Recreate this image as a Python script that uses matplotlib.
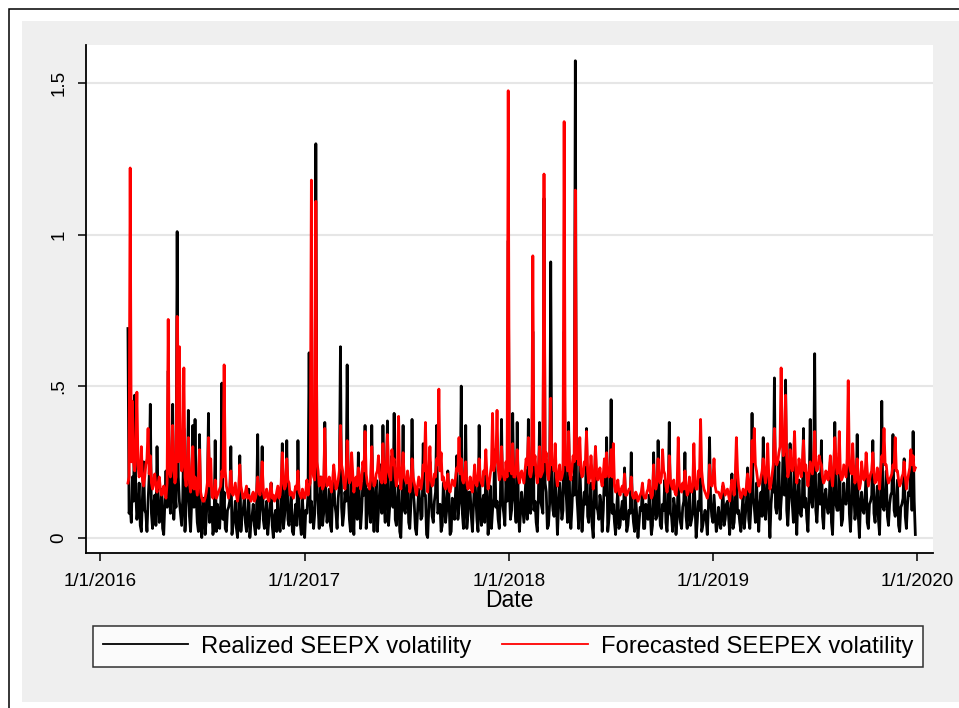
import numpy as np
import pandas as pd
import matplotlib
matplotlib.use("Agg")
import matplotlib.pyplot as plt
from matplotlib.patches import Rectangle
from matplotlib.lines import Line2D

plt.rcParams['font.family'] = ['Liberation Sans', 'DejaVu Sans']

# ---------------- data ----------------
# main readings every 4 days, plus readings at the day-2 points in between
start_date = "2016-02-20"
step = "2D"

realized_a = [0.69, 0.10, 0.20, 0.47, 0.06, 0.18, 0.02, 0.25, 0.08, 0.12,
              0.44, 0.03, 0.14, 0.30, 0.05, 0.16, 0.01, 0.22, 0.55, 0.08,
              0.44, 0.15, 1.01, 0.12, 0.04, 0.36, 0.10, 0.42, 0.02, 0.37,
              0.39, 0.05, 0.34, 0.00, 0.13, 0.06, 0.41, 0.09, 0.01, 0.32,
              0.11, 0.03, 0.51, 0.15, 0.02, 0.10, 0.30, 0.04, 0.12, 0.00,
              0.27, 0.07, 0.13, 0.02, 0.16, 0.05, 0.11, 0.01, 0.34, 0.08,
              0.30, 0.03, 0.12, 0.06, 0.18, 0.00, 0.09, 0.14, 0.02, 0.31,
              0.07, 0.32, 0.04, 0.15, 0.01, 0.11, 0.32, 0.05, 0.13, 0.00,
              0.08, 0.61, 0.12, 0.03, 1.30, 0.10, 0.20, 0.04]
realized_mid_a = [0.08, 0.05, 0.12, 0.15, 0.10, 0.04, 0.13, 0.09, 0.02, 0.20,
                  0.08, 0.11, 0.04, 0.12, 0.09, 0.03, 0.12, 0.10, 0.14, 0.18,
                  0.06, 0.10, 0.20, 0.08, 0.13, 0.02, 0.15, 0.07, 0.12, 0.10,
                  0.13, 0.02, 0.06, 0.09, 0.01, 0.14, 0.05, 0.10, 0.04, 0.02,
                  0.08, 0.12, 0.06, 0.03, 0.09, 0.12, 0.01, 0.07, 0.03, 0.10,
                  0.02, 0.09, 0.05, 0.08, 0.00, 0.07, 0.04, 0.10, 0.03, 0.11,
                  0.06, 0.08, 0.01, 0.10, 0.04, 0.07, 0.02, 0.05, 0.09, 0.03,
                  0.12, 0.06, 0.09, 0.02, 0.07, 0.04, 0.10, 0.01, 0.06, 0.09,
                  0.14, 0.05, 0.08, 0.08, 0.15, 0.03, 0.12, 0.08]
realized_b = [0.38, 0.05, 0.16, 0.02, 0.20, 0.08, 0.13, 0.63, 0.04, 0.15,
              0.57, 0.06, 0.22, 0.01, 0.14, 0.28, 0.03, 0.18, 0.37, 0.07,
              0.12, 0.37, 0.02, 0.19, 0.09, 0.24, 0.37, 0.05, 0.385, 0.10,
              0.27, 0.41, 0.04, 0.17, 0.00, 0.37, 0.08, 0.21, 0.03, 0.39,
              0.11, 0.01, 0.16, 0.06, 0.31, 0.14, 0.00, 0.25, 0.07, 0.12,
              0.37, 0.09, 0.02, 0.18, 0.05, 0.22, 0.01, 0.13, 0.06, 0.27,
              0.10, 0.50, 0.03, 0.37, 0.08, 0.15, 0.02, 0.20, 0.06, 0.37,
              0.04, 0.14, 0.23, 0.01, 0.17, 0.09, 0.29, 0.12, 0.03, 0.39,
              0.08, 0.20, 0.98, 0.06, 0.41, 0.11, 0.38, 0.02]
realized_mid_b = [0.12, 0.09, 0.04, 0.15, 0.11, 0.03, 0.17, 0.10, 0.08, 0.12,
                  0.14, 0.02, 0.10, 0.18, 0.06, 0.12, 0.09, 0.14, 0.03, 0.16,
                  0.05, 0.11, 0.13, 0.02, 0.15, 0.08, 0.12, 0.17, 0.04, 0.14,
                  0.10, 0.06, 0.12, 0.02, 0.13, 0.09, 0.15, 0.05, 0.11, 0.16,
                  0.03, 0.09, 0.12, 0.07, 0.14, 0.01, 0.10, 0.13, 0.05, 0.15,
                  0.08, 0.11, 0.04, 0.12, 0.09, 0.14, 0.02, 0.10, 0.16, 0.06,
                  0.13, 0.08, 0.12, 0.03, 0.15, 0.07, 0.11, 0.14, 0.02, 0.09,
                  0.12, 0.05, 0.15, 0.08, 0.03, 0.13, 0.10, 0.06, 0.14, 0.11,
                  0.04, 0.12, 0.16, 0.09, 0.14, 0.05, 0.12, 0.08]
realized_c = [0.15, 0.05, 0.22, 0.39, 0.08, 0.68, 0.12, 0.02, 0.38, 0.10,
              1.12, 0.15, 0.04, 0.91, 0.09, 0.25, 0.01, 0.18, 0.06, 0.68,
              0.13, 0.38, 0.03, 0.20, 1.574, 0.10, 0.24, 0.02, 0.15, 0.36,
              0.05, 0.18, 0.00, 0.30, 0.09, 0.14, 0.02, 0.21, 0.33, 0.06,
              0.455, 0.11, 0.01, 0.16, 0.04, 0.12, 0.23, 0.02, 0.09, 0.28,
              0.05, 0.13, 0.00, 0.10, 0.17, 0.03, 0.08, 0.14, 0.01, 0.28,
              0.06, 0.32, 0.04, 0.11, 0.19, 0.02, 0.38, 0.07, 0.13, 0.01,
              0.20, 0.05, 0.10, 0.28, 0.03, 0.15, 0.06, 0.22, 0.00, 0.12,
              0.25, 0.04, 0.09, 0.01, 0.33, 0.07, 0.14, 0.02]
realized_mid_c = [0.10, 0.13, 0.06, 0.12, 0.15, 0.09, 0.05, 0.14, 0.12, 0.08,
                  0.18, 0.03, 0.11, 0.14, 0.07, 0.12, 0.10, 0.13, 0.09, 0.17,
                  0.05, 0.12, 0.10, 0.14, 0.16, 0.03, 0.13, 0.09, 0.11, 0.07,
                  0.12, 0.04, 0.13, 0.10, 0.06, 0.11, 0.09, 0.14, 0.02, 0.12,
                  0.08, 0.05, 0.10, 0.03, 0.09, 0.06, 0.11, 0.04, 0.08, 0.10,
                  0.02, 0.07, 0.05, 0.09, 0.03, 0.11, 0.06, 0.08, 0.04, 0.10,
                  0.07, 0.12, 0.03, 0.09, 0.05, 0.11, 0.08, 0.02, 0.10, 0.06,
                  0.09, 0.03, 0.12, 0.07, 0.10, 0.04, 0.08, 0.11, 0.05, 0.09,
                  0.02, 0.07, 0.06, 0.10, 0.12, 0.05, 0.08, 0.04]
realized_d = [0.10, 0.03, 0.17, 0.06, 0.12, 0.01, 0.21, 0.05, 0.26, 0.09,
              0.02, 0.14, 0.07, 0.23, 0.03, 0.41, 0.10, 0.18, 0.02, 0.15,
              0.33, 0.06, 0.22, 0.00, 0.16, 0.527, 0.08, 0.25, 0.12, 0.34,
              0.52, 0.04, 0.31, 0.11, 0.27, 0.01, 0.19, 0.07, 0.36, 0.13,
              0.02, 0.39, 0.10, 0.607, 0.05, 0.21, 0.32, 0.03, 0.16, 0.08,
              0.25, 0.01, 0.38, 0.09, 0.28, 0.04, 0.18, 0.11, 0.30, 0.02,
              0.24, 0.06, 0.34, 0.00, 0.15, 0.08, 0.21, 0.03, 0.12, 0.32,
              0.05, 0.17, 0.01, 0.45, 0.09, 0.22, 0.04, 0.14, 0.34, 0.07,
              0.19, 0.02, 0.11, 0.26, 0.03, 0.15, 0.24, 0.35, 0.01]
realized_mid_d = [0.06, 0.09, 0.04, 0.11, 0.07, 0.10, 0.03, 0.12, 0.08, 0.05,
                  0.09, 0.03, 0.12, 0.06, 0.10, 0.13, 0.05, 0.09, 0.11, 0.07,
                  0.12, 0.14, 0.08, 0.11, 0.15, 0.10, 0.13, 0.06, 0.17, 0.14,
                  0.09, 0.12, 0.16, 0.05, 0.11, 0.14, 0.08, 0.13, 0.10, 0.06,
                  0.15, 0.12, 0.18, 0.09, 0.13, 0.11, 0.07, 0.14, 0.10, 0.12,
                  0.05, 0.15, 0.11, 0.09, 0.13, 0.06, 0.12, 0.14, 0.08, 0.11,
                  0.15, 0.10, 0.07, 0.12, 0.09, 0.13, 0.05, 0.11, 0.14, 0.08,
                  0.12, 0.06, 0.16, 0.10, 0.13, 0.07, 0.11, 0.15, 0.09, 0.12,
                  0.04, 0.10, 0.13, 0.07, 0.11, 0.14, 0.09, 0.12]

forecast_a = [0.18, 1.22, 0.45, 0.22, 0.48, 0.20, 0.30, 0.17, 0.24, 0.36,
              0.27, 0.16, 0.21, 0.15, 0.20, 0.14, 0.17, 0.13, 0.72, 0.20,
              0.37, 0.18, 0.73, 0.63, 0.22, 0.56, 0.17, 0.33, 0.15, 0.30,
              0.20, 0.14, 0.29, 0.13, 0.12, 0.15, 0.33, 0.26, 0.13, 0.19,
              0.14, 0.16, 0.22, 0.57, 0.17, 0.13, 0.22, 0.14, 0.18, 0.12,
              0.24, 0.15, 0.13, 0.17, 0.14, 0.12, 0.15, 0.13, 0.20, 0.14,
              0.25, 0.13, 0.16, 0.12, 0.18, 0.14, 0.13, 0.17, 0.14, 0.28,
              0.16, 0.26, 0.18, 0.15, 0.13, 0.17, 0.22, 0.14, 0.16, 0.13,
              0.19, 0.17, 1.18, 0.20, 1.11, 0.22, 0.18, 0.16]
forecast_mid_a = [0.20, 0.25, 0.25, 0.30, 0.24, 0.22, 0.19, 0.20, 0.26, 0.21,
                  0.18, 0.19, 0.17, 0.18, 0.16, 0.15, 0.14, 0.18, 0.22, 0.24,
                  0.22, 0.20, 0.25, 0.30, 0.25, 0.20, 0.22, 0.18, 0.21, 0.16,
                  0.17, 0.19, 0.15, 0.12, 0.13, 0.18, 0.17, 0.14, 0.15, 0.13,
                  0.15, 0.17, 0.20, 0.22, 0.15, 0.16, 0.15, 0.16, 0.14, 0.15,
                  0.17, 0.13, 0.15, 0.13, 0.13, 0.14, 0.12, 0.15, 0.16, 0.17,
                  0.15, 0.14, 0.13, 0.15, 0.13, 0.12, 0.15, 0.13, 0.18, 0.19,
                  0.17, 0.19, 0.14, 0.14, 0.15, 0.16, 0.15, 0.13, 0.14, 0.15,
                  0.14, 0.18, 0.22, 0.19, 0.25, 0.17, 0.20, 0.17]
forecast_b = [0.36, 0.17, 0.20, 0.15, 0.24, 0.16, 0.19, 0.37, 0.22, 0.16,
              0.32, 0.18, 0.28, 0.15, 0.20, 0.23, 0.16, 0.25, 0.35, 0.18,
              0.16, 0.30, 0.17, 0.21, 0.27, 0.19, 0.31, 0.18, 0.34, 0.20,
              0.29, 0.26, 0.17, 0.40, 0.16, 0.28, 0.19, 0.22, 0.15, 0.26,
              0.18, 0.14, 0.20, 0.16, 0.24, 0.38, 0.15, 0.30, 0.17, 0.21,
              0.26, 0.49, 0.28, 0.20, 0.16, 0.21, 0.15, 0.19, 0.17, 0.23,
              0.33, 0.26, 0.18, 0.25, 0.16, 0.20, 0.15, 0.24, 0.17, 0.26,
              0.18, 0.22, 0.29, 0.16, 0.21, 0.41, 0.24, 0.42, 0.19, 0.30,
              0.20, 0.25, 1.475, 0.24, 0.31, 0.20, 0.29, 0.18]
forecast_mid_b = [0.20, 0.18, 0.17, 0.19, 0.20, 0.17, 0.22, 0.24, 0.18, 0.20,
                  0.22, 0.19, 0.21, 0.18, 0.17, 0.20, 0.19, 0.22, 0.21, 0.17,
                  0.19, 0.20, 0.18, 0.22, 0.20, 0.18, 0.21, 0.23, 0.22, 0.19,
                  0.24, 0.20, 0.23, 0.19, 0.21, 0.20, 0.18, 0.19, 0.17, 0.20,
                  0.16, 0.17, 0.18, 0.19, 0.22, 0.20, 0.21, 0.19, 0.18, 0.20,
                  0.24, 0.22, 0.19, 0.17, 0.18, 0.16, 0.17, 0.18, 0.20, 0.22,
                  0.21, 0.19, 0.20, 0.18, 0.17, 0.16, 0.19, 0.18, 0.20, 0.19,
                  0.17, 0.21, 0.20, 0.18, 0.24, 0.22, 0.26, 0.23, 0.20, 0.22,
                  0.19, 0.20, 0.22, 0.21, 0.20, 0.22, 0.20, 0.21]
forecast_c = [0.22, 0.18, 0.26, 0.33, 0.20, 0.93, 0.27, 0.18, 0.30, 0.21,
              1.20, 0.28, 0.19, 0.46, 0.25, 0.31, 0.17, 0.24, 0.20, 1.373,
              0.26, 0.35, 0.19, 0.27, 1.147, 0.30, 0.33, 0.20, 0.25, 0.35,
              0.18, 0.27, 0.16, 0.30, 0.19, 0.23, 0.17, 0.26, 0.28, 0.20,
              0.29, 0.31, 0.15, 0.19, 0.14, 0.17, 0.21, 0.14, 0.16, 0.20,
              0.13, 0.15, 0.12, 0.14, 0.18, 0.13, 0.15, 0.19, 0.13, 0.24,
              0.16, 0.26, 0.18, 0.29, 0.21, 0.15, 0.27, 0.17, 0.19, 0.14,
              0.33, 0.16, 0.18, 0.22, 0.14, 0.20, 0.15, 0.31, 0.16, 0.22,
              0.39, 0.18, 0.15, 0.13, 0.24, 0.17, 0.26, 0.15]
forecast_mid_c = [0.20, 0.22, 0.24, 0.21, 0.22, 0.24, 0.21, 0.23, 0.20, 0.22,
                  0.25, 0.21, 0.23, 0.24, 0.22, 0.20, 0.21, 0.19, 0.22, 0.24,
                  0.22, 0.21, 0.23, 0.25, 0.26, 0.24, 0.22, 0.21, 0.24, 0.22,
                  0.20, 0.21, 0.19, 0.22, 0.20, 0.19, 0.21, 0.20, 0.22, 0.21,
                  0.20, 0.17, 0.16, 0.15, 0.16, 0.15, 0.14, 0.15, 0.16, 0.14,
                  0.13, 0.14, 0.13, 0.15, 0.14, 0.13, 0.16, 0.15, 0.14, 0.17,
                  0.18, 0.19, 0.20, 0.22, 0.17, 0.18, 0.19, 0.16, 0.15, 0.17,
                  0.18, 0.15, 0.16, 0.17, 0.15, 0.16, 0.17, 0.18, 0.16, 0.20,
                  0.22, 0.16, 0.14, 0.15, 0.18, 0.19, 0.17, 0.15]
forecast_d = [0.15, 0.13, 0.18, 0.14, 0.16, 0.12, 0.19, 0.14, 0.33, 0.17,
              0.13, 0.16, 0.14, 0.21, 0.15, 0.32, 0.36, 0.22, 0.17, 0.20,
              0.26, 0.18, 0.31, 0.16, 0.21, 0.36, 0.24, 0.28, 0.56, 0.27,
              0.47, 0.20, 0.29, 0.22, 0.35, 0.18, 0.26, 0.20, 0.32, 0.24,
              0.17, 0.25, 0.21, 0.35, 0.22, 0.27, 0.24, 0.18, 0.22, 0.19,
              0.27, 0.17, 0.33, 0.21, 0.35, 0.19, 0.24, 0.20, 0.518, 0.22,
              0.31, 0.18, 0.26, 0.16, 0.25, 0.19, 0.28, 0.17, 0.21, 0.28,
              0.18, 0.23, 0.16, 0.27, 0.36, 0.24, 0.18, 0.20, 0.24, 0.33,
              0.22, 0.17, 0.20, 0.25, 0.16, 0.21, 0.29, 0.27, 0.23]
forecast_mid_d = [0.14, 0.15, 0.16, 0.15, 0.14, 0.16, 0.17, 0.20, 0.22, 0.15,
                  0.14, 0.15, 0.17, 0.16, 0.20, 0.25, 0.24, 0.19, 0.18, 0.22,
                  0.21, 0.23, 0.20, 0.18, 0.24, 0.26, 0.25, 0.30, 0.32, 0.30,
                  0.26, 0.22, 0.24, 0.26, 0.23, 0.21, 0.22, 0.25, 0.22, 0.20,
                  0.21, 0.23, 0.26, 0.24, 0.23, 0.25, 0.20, 0.19, 0.21, 0.22,
                  0.20, 0.23, 0.25, 0.22, 0.21, 0.20, 0.22, 0.26, 0.24, 0.21,
                  0.22, 0.20, 0.19, 0.18, 0.21, 0.20, 0.22, 0.19, 0.22, 0.21,
                  0.19, 0.20, 0.22, 0.25, 0.24, 0.20, 0.19, 0.21, 0.23, 0.22,
                  0.19, 0.18, 0.21, 0.20, 0.19, 0.23, 0.24, 0.22]


def weave(main, mid):
    out = []
    for i, v in enumerate(main):
        out.append(v)
        if i < len(mid):
            out.append(mid[i])
    return out


realized = (weave(realized_a, realized_mid_a) + weave(realized_b, realized_mid_b)
            + weave(realized_c, realized_mid_c) + weave(realized_d, realized_mid_d))
forecast = (weave(forecast_a, forecast_mid_a) + weave(forecast_b, forecast_mid_b)
            + weave(forecast_c, forecast_mid_c) + weave(forecast_d, forecast_mid_d))
n = min(len(realized), len(forecast))
realized, forecast = realized[:n], forecast[:n]
dates = pd.date_range(start_date, periods=n, freq=step)

y_ticks = [0, 0.5, 1, 1.5]
y_tick_labels = ["0", ".5", "1", "1.5"]
x_ticks = pd.to_datetime(["2016-01-01", "2017-01-01", "2018-01-01", "2019-01-01", "2020-01-01"])
x_tick_labels = ["1/1/2016", "1/1/2017", "1/1/2018", "1/1/2019", "1/1/2020"]
series_labels = ["Realized SEEPX volatility", "Forecasted SEEPEX volatility"]

# ---------------- figure ----------------
W, H = 959, 708
fig = plt.figure(figsize=(W / 100, H / 100), dpi=100)
fig.patch.set_facecolor("white")

# outer frame line (top/left visible)
fig.add_artist(Rectangle((9 / W, -0.2), 1.5, (1 - 9 / H) + 0.2,
                         transform=fig.transFigure, facecolor="none",
                         edgecolor="black", lw=1.1, zorder=0))
# gray graph region
fig.add_artist(Rectangle((22 / W, 1 - 702 / H), 1.2, (702 - 21) / H,
                         transform=fig.transFigure, facecolor="#efefef",
                         edgecolor="none", zorder=0))

ax = fig.add_axes([86 / W, 1 - 553 / H, (933 - 86) / W, (553 - 45) / H])
ax.set_facecolor("white")

ax.plot(dates, realized, color="black", lw=2.0, zorder=3)
ax.plot(dates, forecast, color="red", lw=2.0, zorder=4)

ax.set_ylim(-0.051, 1.626)
ax.set_xlim(pd.Timestamp("2015-12-07"), pd.Timestamp("2020-01-29 14:00"))

ax.set_yticks(y_ticks)
ax.set_yticklabels(y_tick_labels, rotation=90, va="center", fontsize=13.5)
ax.set_xticks(x_ticks)
ax.set_xticklabels(x_tick_labels, fontsize=13.5)

ax.yaxis.grid(True, color="#e6e6e6", lw=1.5)
ax.set_axisbelow(True)

for s in ["top", "right"]:
    ax.spines[s].set_visible(False)
for s in ["left", "bottom"]:
    ax.spines[s].set_linewidth(1.3)
    ax.spines[s].set_color("black")

ax.tick_params(axis="both", length=5.5, width=1.1, color="black")
ax.tick_params(axis="x", pad=9)
ax.tick_params(axis="y", pad=8)

ax.set_xlabel("Date", fontsize=16.5, labelpad=-1)

handles = [Line2D([], [], color="black", lw=1.3),
           Line2D([], [], color="red", lw=1.3)]
leg = fig.legend(handles, series_labels, loc="center",
                 bbox_to_anchor=(508 / W, 1 - 646.5 / H), ncol=2,
                 fontsize=17.1, frameon=True, fancybox=False,
                 handlelength=3.6, handletextpad=0.55, columnspacing=1.3,
                 borderpad=0.4, borderaxespad=0)
leg.get_frame().set_edgecolor("black")
leg.get_frame().set_linewidth(1.1)
leg.get_frame().set_facecolor("white")

fig.savefig("out.png", dpi=100, facecolor=fig.get_facecolor())
